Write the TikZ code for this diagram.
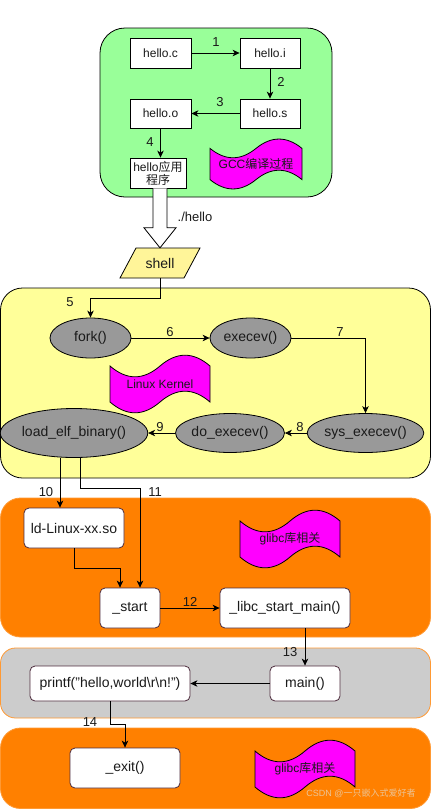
\documentclass[tikz,border=0pt]{standalone}
\usepackage{fontspec}
\setmainfont{Liberation Sans}
\newfontfamily\cjk{Noto Sans CJK SC}
\usetikzlibrary{arrows.meta,calc,shapes.geometric}
\definecolor{greenbg}{HTML}{99FF99}
\definecolor{yellowbg}{HTML}{FFFF99}
\definecolor{shellbg}{HTML}{FFF599}
\definecolor{ellgray}{HTML}{999999}
\definecolor{orangebg}{HTML}{FF8000}
\definecolor{orangeln}{HTML}{FF9933}
\definecolor{graybg}{HTML}{CCCCCC}
\definecolor{tapemag}{HTML}{FF00FF}
\definecolor{boxln}{HTML}{4D2C3D}
\definecolor{txt}{HTML}{1A1A1A}
\definecolor{wmcol}{RGB}{236,196,150}
\newcommand\mytape[6]{% x y w h name text
  \pgfmathsetmacro\tdy{0.4*#4}
  \draw[tapestyle] ({#1},{#2+0.5*\tdy})
    .. controls ({#1+#3/6},{#2+1.1*\tdy}) and ({#1+#3/3},{#2+1.1*\tdy}) .. ({#1+#3/2},{#2+0.5*\tdy})
    .. controls ({#1+2*#3/3},{#2-0.1*\tdy}) and ({#1+5*#3/6},{#2-0.1*\tdy}) .. ({#1+#3},{#2+0.5*\tdy})
    -- ({#1+#3},{#2+#4-0.5*\tdy})
    .. controls ({#1+5*#3/6},{#2+#4-1.1*\tdy}) and ({#1+2*#3/3},{#2+#4-1.1*\tdy}) .. ({#1+#3/2},{#2+#4-0.5*\tdy})
    .. controls ({#1+#3/3},{#2+#4+0.1*\tdy}) and ({#1+#3/6},{#2+#4+0.1*\tdy}) .. ({#1},{#2+#4-0.5*\tdy})
    -- cycle;
  \node[tapetext] (#5) at ({#1+#3/2},{#2+#4/2}) {#6};
}
\begin{document}
\begin{tikzpicture}[x=1pt,y=-1pt,
  lw/.style={line width=0.8pt},
  conn/.style={draw=black, line width=0.8pt, -{Stealth[length=7pt,width=6.5pt,inset=2pt]}},
  t12/.style={font=\fontsize{12}{13}\selectfont, text=txt},
  t14/.style={font=\fontsize{14}{16}\selectfont, text=txt},
  num/.style={font=\fontsize{13}{15}\selectfont, text=txt, inner sep=0pt},
  sq/.style={draw=black, fill=white, lw, inner sep=0pt, t12},
  ell/.style={ellipse, draw=black, fill=ellgray, lw, inner sep=0pt, t14},
  wbox/.style={draw=boxln, fill=white, lw, rounded corners=5pt, inner sep=0pt, t14},
  tapestyle/.style={draw=black, fill=tapemag, lw},
  tapetext/.style={t12, inner sep=0pt},
  region/.style={lw}
]
\useasboundingbox (0,0) rectangle (431,809);

% ---------- GCC region ----------
\draw[region, fill=greenbg, draw=black, rounded corners=25pt] (100,28) rectangle (332,197);
\node[sq, minimum width=61pt, minimum height=30pt] (hc) at (160.5,53) {hello.c};
\node[sq, minimum width=60pt, minimum height=30pt] (hi) at (270,53) {hello.i};
\node[sq, minimum width=60pt, minimum height=29pt] (hs) at (270,113.5) {hello.s};
\node[sq, minimum width=61pt, minimum height=29pt] (ho) at (160.5,113.5) {hello.o};
\node[sq, minimum width=56pt, minimum height=30pt, align=center] (happ) at (158,173) {hello{\cjk 应用}\\{\cjk 程序}};
\mytape{210}{138}{92}{52}{gcc}{GCC{\cjk 编译过程}}
\draw[conn] (hc.east) -- (hi.west);
\draw[conn] (hi.south) -- (hs.north);
\draw[conn] (hs.west) -- (ho.east);
\draw[conn] (ho.south) -- (ho.south |- happ.north);
\node[num] at (216,42) {1};
\node[num] at (281,82) {2};
\node[num] at (220,102) {3};
\node[num] at (150,142) {4};

% ---------- shell ----------
\draw[lw, fill=shellbg] (120,278) -- (136,248) -- (200,248) -- (184,278) -- cycle;
\node[t14, minimum width=64pt, minimum height=30pt, inner sep=0pt] (shell) at (160,263) {shell};
\draw[lw, fill=white] ($(happ.south -| shell.north)+(-7,0)$) -- ($(shell.north)+(-7,-20)$) -- ($(shell.north)+(-16,-20)$) -- (shell.north) -- ($(shell.north)+(16,-20)$) -- ($(shell.north)+(7,-20)$) -- ($(happ.south -| shell.north)+(7,0)$);
\node[num] at (195,217) {./hello};

% ---------- kernel region ----------
\draw[region, fill=yellowbg, draw=black, rounded corners=22pt] (0.5,288) rectangle (430.5,478);
\node[ell, minimum width=81pt, minimum height=40pt] (fork) at (90.5,338) {fork()};
\node[ell, minimum width=81pt, minimum height=40pt] (exe) at (250.5,338) {execev()};
\node[ell, minimum width=111pt, minimum height=39pt] (sys) at (365.5,433) {sys\_execev()};
\node[ell, minimum width=100pt, minimum height=39pt] (doe) at (230,433) {do\_execev()};
\node[ell, minimum width=128pt, minimum height=49pt] (load) at (74,433) {load\_elf\_binary()};
\mytape{110}{354}{100}{60}{kern}{Linux Kernel}
\draw[conn] (shell.south) -- ++(0,20) -| (fork.north);
\draw[conn] (fork.east) -- (exe.west);
\draw[conn] (exe.east) -| (sys.north);
\draw[conn] (sys.west) -- (doe.east);
\draw[conn] (doe.west) -- (load.east);
\node[num] at (70,302) {5};
\node[num] at (170,332) {6};
\node[num] at (340,332) {7};
\node[num] at (300,427) {8};
\node[num] at (160,427) {9};

% ---------- glibc region 1 ----------
\draw[region, fill=orangebg, draw=orangeln, rounded corners=20pt] (0.5,498) rectangle (430.5,637);
\node[wbox, minimum width=100pt, minimum height=40pt] (ld) at (74,528) {ld-Linux-xx.so};
\node[wbox, minimum width=60pt, minimum height=40pt] (st) at (130,608) {\_start};
\node[wbox, minimum width=130pt, minimum height=40pt] (libc) at (285,608) {\_libc\_start\_main()};
\mytape{240}{509}{100}{60}{glibcA}{glibc{\cjk 库相关}}
\draw[conn] ([xshift=-14pt]load.south) -- ([xshift=-14pt]load.south |- ld.north);
\draw[conn] ([xshift=6pt]load.south) -- ++(0,30) -| ([xshift=10pt]st.north);
\draw[conn] (ld.south) -- ++(0,20) -| ([xshift=-10pt]st.north);
\draw[conn] (st.east) -- (libc.west);
\node[num] at (46,492) {10};
\node[num] at (155,492) {11};
\node[num] at (190,602) {12};

% ---------- user region ----------
\draw[region, fill=graybg, draw=orangeln, rounded corners=15pt] (0.5,648) rectangle (430.5,718);
\node[wbox, minimum width=70pt, minimum height=35pt] (main) at (305,683.5) {main()};
\node[wbox, minimum width=160pt, minimum height=35pt] (printf) at (110,683.5) {printf("hello,world\textbackslash r\textbackslash n!")};
\draw[conn] (main.north |- libc.south) -- (main.north);
\draw[conn] (main.west) -- (printf.east);
\node[num] at (290,652) {13};

% ---------- glibc region 2 ----------
\draw[region, fill=orangebg, draw=orangeln, rounded corners=20pt] (0.5,728) rectangle (430.5,808.5);
\node[wbox, minimum width=110pt, minimum height=40pt] (exit) at (125,768) {\_exit()};
\mytape{255}{739}{100}{60}{glibcB}{glibc{\cjk 库相关}}
\draw[conn] (printf.south) -- ++(0,23) -| (exit.north);
\node[num] at (90,722) {14};
\node[font=\fontsize{9}{10}\selectfont, text=wmcol, inner sep=0pt] (wm) at (361,793) {CSDN @{\cjk 一只嵌入式爱好者}};
\end{tikzpicture}
\end{document}
